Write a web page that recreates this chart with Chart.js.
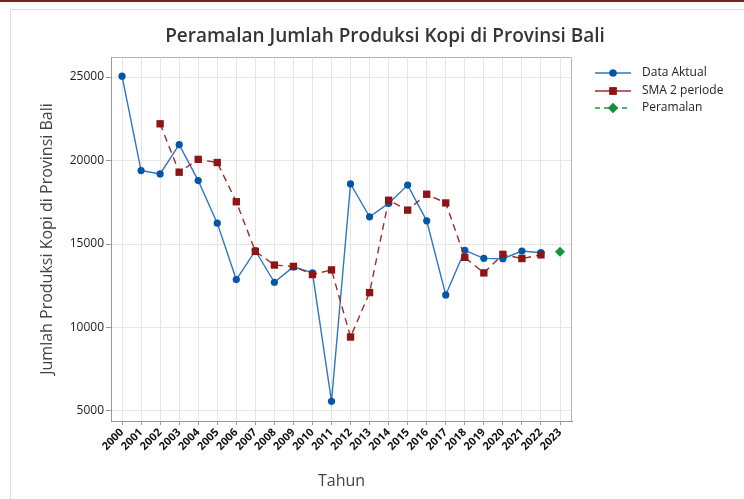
<!DOCTYPE html>
<html>
<head>
<meta charset="utf-8">
<script src="https://cdn.jsdelivr.net/npm/chart.js@4.4.0/dist/chart.umd.min.js"></script>
<style>
  html, body { margin: 0; padding: 0; background: #fff; }
</style>
</head>
<body>
<canvas id="myChart" width="744" height="499"></canvas>
<script>
// data
const years = [2000, 2001, 2002, 2003, 2004, 2005, 2006, 2007, 2008, 2009, 2010, 2011,
               2012, 2013, 2014, 2015, 2016, 2017, 2018, 2019, 2020, 2021, 2022, 2023];
const dataAktual = [25050, 19400, 19200, 20950, 18800, 16250, 12870, 14600, 12710, 13630, 13270, 5580,
                    18600, 16630, 17430, 18530, 16390, 11950, 14620, 14140, 14120, 14580, 14480, null];
const sma2 = [null, null, 22200, 19300, 20070, 19880, 17530, 14560, 13740, 13660, 13170, 13450,
              9430, 12090, 17620, 17030, 17980, 17460, 14200, 13270, 14380, 14130, 14350, null];
const peramalan = [null, null, null, null, null, null, null, null, null, null, null, null,
                   null, null, null, null, null, null, null, null, null, null, null, 14530];
const yTicks = [5000, 10000, 15000, 20000, 25000];

const FONT = "'Open Sans', 'Noto Sans', sans-serif";

function toPoints(vals) {
    let pts = [];
    years.forEach((yr, i) => {
        if (vals[i] !== null) pts.push({ x: yr, y: vals[i] });
    });
    return pts;
}

const series = [
    { label: 'Data Aktual', line: '#2f76c4', mark: '#0555a6', style: 'circle', radius: 3.6, dash: [], legendDash: [] },
    { label: 'SMA 2 periode', line: '#a32a2a', mark: '#8e1515', style: 'rect', radius: 5.2, dash: [7, 5], legendDash: [] },
    { label: 'Peramalan', line: '#1c9a3c', mark: '#16923a', style: 'rectRot', radius: 5, dash: [5, 4], legendDash: [5, 4] }
];

// frame, title and legend drawn around the chart
const decor = {
    id: 'decor',
    beforeDraw(chart) {
        const c = chart.ctx;
        c.save();
        c.fillStyle = '#fff';
        c.fillRect(0, 0, chart.width, chart.height);
        c.fillStyle = '#7a2222';
        c.fillRect(0, 0, chart.width, 2);
        c.strokeStyle = '#dcdcdc';
        c.lineWidth = 1;
        c.strokeRect(10.5, 9.5, 900, 700);
        c.restore();
    },
    afterDraw(chart) {
        const c = chart.ctx;
        const a = chart.chartArea;
        c.save();
        // top and right edges of the plot box
        c.strokeStyle = '#b4b4b4';
        c.lineWidth = 1;
        c.beginPath();
        c.moveTo(a.left, a.top + 0.5);
        c.lineTo(a.right - 0.5, a.top + 0.5);
        c.lineTo(a.right - 0.5, a.bottom);
        c.stroke();

        // title
        c.fillStyle = '#353535';
        c.font = '600 19px ' + FONT;
        c.textAlign = 'center';
        c.textBaseline = 'middle';
        c.fillText('Peramalan Jumlah Produksi Kopi di Provinsi Bali', 385, 37);

        // legend
        const rowY = [73, 91, 108];
        series.forEach((s, i) => {
            const y = rowY[i];
            c.strokeStyle = s.line;
            c.lineWidth = 1.5;
            c.setLineDash(s.legendDash);
            c.beginPath();
            c.moveTo(595, y);
            c.lineTo(631, y);
            c.stroke();
            c.setLineDash([]);
            c.fillStyle = s.mark;
            Chart.helpers.drawPoint(c, { pointStyle: s.style, radius: s.radius, borderWidth: 0 }, 613, y);
            c.fill();
            c.fillStyle = '#222';
            c.font = '12px ' + FONT;
            c.textAlign = 'left';
            c.fillText(s.label, 642, y);
        });
        c.restore();
    }
};

const valueLists = [dataAktual, sma2, peramalan];
const datasets = series.map((s, i) => ({
    label: s.label,
    data: toPoints(valueLists[i]),
    borderColor: s.line,
    borderWidth: 1.4,
    borderDash: s.dash,
    pointStyle: s.style,
    pointRadius: s.radius,
    pointBorderWidth: 0,
    pointBackgroundColor: s.mark,
    pointBorderColor: s.mark,
    tension: 0,
    order: i === 1 ? 0 : (i === 0 ? 1 : 2)
}));

let ctx = document.getElementById('myChart').getContext('2d');

let kopiChart = new Chart(ctx, {
    type: 'line',
    data: { datasets: datasets },
    options: {
        responsive: false,
        animation: false,
        devicePixelRatio: 1,
        layout: { padding: { left: 10, top: 57, right: 172, bottom: 0 } },
        plugins: {
            legend: { display: false },
            title: { display: false },
            tooltip: { enabled: false }
        },
        scales: {
            x: {
                type: 'linear',
                min: 1999.42,
                max: 2023.63,
                afterBuildTicks: s => { s.ticks = years.map(v => ({ value: v })); },
                afterFit: s => { s.height = 78; },
                ticks: {
                    autoSkip: false,
                    minRotation: 45,
                    maxRotation: 45,
                    padding: 1,
                    color: '#111',
                    font: { family: FONT, size: 11, weight: 'bold' },
                    callback: v => String(v)
                },
                grid: { color: '#e6e6e6', tickColor: '#999', tickLength: 4 },
                border: { color: '#999' },
                title: {
                    display: true,
                    text: 'Tahun',
                    color: '#444',
                    font: { family: FONT, size: 16 },
                    padding: { top: 0, bottom: 8 }
                }
            },
            y: {
                min: 4400,
                max: 26200,
                afterBuildTicks: s => { s.ticks = yTicks.map(v => ({ value: v })); },
                afterFit: s => { s.width = 101; },
                ticks: {
                    padding: 2,
                    color: '#222',
                    font: { family: FONT, size: 12 },
                    callback: v => String(v)
                },
                grid: { color: '#e6e6e6', tickColor: '#999', tickLength: 5 },
                border: { color: '#999' },
                title: {
                    display: true,
                    text: 'Jumlah Produksi Kopi di Provinsi Bali',
                    color: '#444',
                    font: { family: FONT, size: 16 },
                    padding: { top: 28, bottom: 0 }
                }
            }
        }
    },
    plugins: [decor]
});
</script>
</body>
</html>
